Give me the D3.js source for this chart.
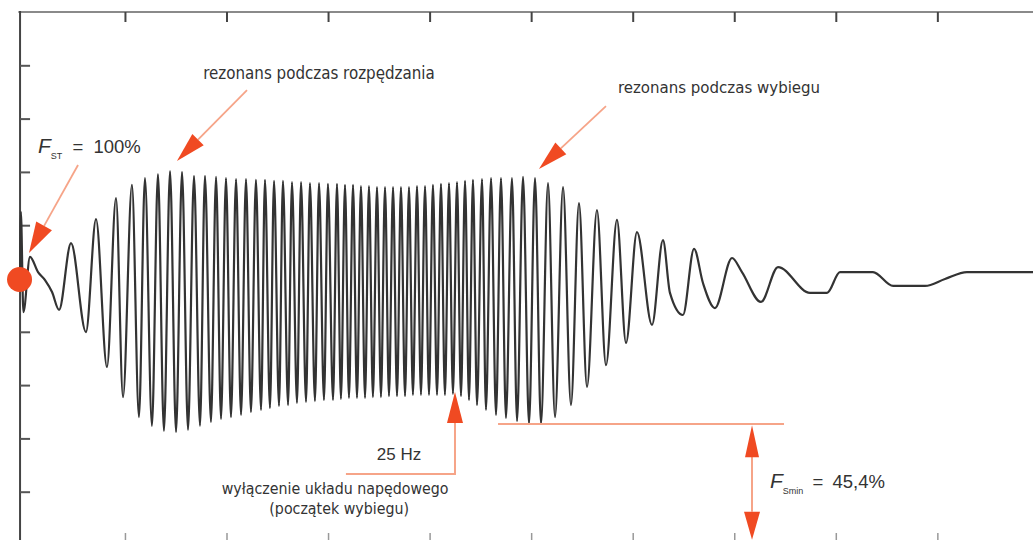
<!DOCTYPE html>
<html><head><meta charset="utf-8">
<script src="https://cdn.jsdelivr.net/npm/d3@7"></script>
<style>body{margin:0;background:#fff}svg{display:block}</style>
</head><body><svg id="c" width="1033" height="540"></svg>
<script>
// time axis in tick units (s), force in % of static force
const timeS = [-0.033,-0.025,0.0,0.065,0.144,0.213,0.282,0.351,0.469,0.616,0.715,0.823,0.912,0.981,
1.069,1.138,1.197,1.266,1.325,1.384,1.444,1.503,1.562,1.621,1.680,1.739,1.788,1.847,1.897,1.946,1.995,2.044,2.094,2.143,
2.192,2.241,2.290,2.340,2.379,2.428,2.468,2.517,2.556,2.606,2.645,2.694,2.734,2.783,2.822,2.871,2.911,2.960,2.999,3.049,
3.088,3.127,3.167,3.206,3.246,3.285,3.324,3.364,3.403,3.442,3.482,3.521,3.561,3.600,3.640,3.679,3.718,3.758,3.797,3.836,
3.876,3.915,3.955,3.994,4.033,4.073,4.112,4.151,4.191,4.230,4.270,4.309,4.349,4.388,4.427,4.467,4.516,4.555,4.605,4.654,
4.703,4.752,4.811,4.861,4.920,4.979,5.038,5.097,5.166,5.235,5.314,5.392,5.471,5.550,5.648,5.737,5.845,5.934,6.042,6.190,
6.298,6.367,6.495,6.604,6.692,6.810,6.978,7.076,7.263,7.431,7.746,7.914,8.041,8.366,8.564,8.879,9.075,9.292,10.01];
const forcePct = [100,125.0,87.4,108.1,102.4,99.4,94.9,88.2,113.3,79.9,122.3,66.8,130.2,55.5,
135.1,48.0,137.7,44.7,139.2,42.8,140.3,42.4,140.0,43.2,138.5,44.7,138.5,46.2,138.1,47.3,137.7,48.0,137.3,48.8,
137.3,49.9,137.0,50.7,137.0,51.4,136.6,52.2,136.6,52.5,136.2,53.3,136.2,53.7,135.8,54.0,135.8,54.4,135.5,54.4,
135.5,54.8,135.1,55.2,135.1,55.2,134.7,55.2,134.7,55.5,134.3,55.5,134.3,55.9,134.3,55.9,134.3,55.9,134.3,56.3,
134.7,56.3,134.7,56.3,135.1,56.3,135.5,56.3,135.8,56.7,136.2,55.9,136.6,54.4,137.0,52.5,137.3,50.7,137.7,48.8,
137.7,47.7,137.7,46.5,138.1,45.4,137.7,45.4,135.8,48.0,134.3,52.5,128.3,59.3,125.7,67.5,122.0,75.8,117.4,82.6,
114.4,94.6,86.3,111.1,98.3,88.9,107.7,102.4,91.2,104.3,94.6,94.6,102.4,102.4,97.2,97.2,99.8,102.4,102.4];
const xTicks = [1,2,3,4,5,6,7,8,9];
const yTicks = [20,40,60,80,100,120,140,160,180];
const fStatic = 100;
const fSmin = 45.4;
const tShutdown = 4.25;
const freqLabel = "25 Hz";
const textRunUp = "rezonans podczas rozpędzania";
const textRunDown = "rezonans podczas wybiegu";
const textOff = ["wyłączenie układu napędowego", "(początek wybiegu)"];

const svg = d3.select("#c");
const x = d3.scaleLinear().domain([0,10]).range([23.4,1038.9]);
const y = d3.scaleLinear().domain([0,200]).range([545,12]);
const axisT = -0.033;
const ORANGE = "#f04a22", SALMON = "#f6a488", INK = "#333";

// axes
svg.append("line").attr("x1",x(-0.05)).attr("x2",1033).attr("y1",y(200)).attr("y2",y(200))
  .attr("stroke","#8a8a8a").attr("stroke-width",2);
const gT = svg.append("g").attr("transform",`translate(0,${y(200)})`)
  .call(d3.axisTop(x).tickValues(xTicks).tickSize(-10).tickFormat(""));
const gB = svg.append("g").attr("transform",`translate(0,${y(0)})`)
  .call(d3.axisBottom(x).tickValues(xTicks).tickSize(-12).tickFormat(""));
const gL = svg.append("g").attr("transform",`translate(${x(axisT)},0)`)
  .call(d3.axisLeft(y).tickValues(yTicks).tickSize(-10).tickFormat(""));
[gT,gB].forEach(g=>g.select(".domain").remove());
gL.select(".domain").attr("stroke","#444").attr("stroke-width",2).attr("d",`M0,${y(0)}V${y(200)-1}`);
gT.selectAll(".tick line").attr("stroke","#444").attr("stroke-width",2);
gB.selectAll(".tick line").attr("stroke","#999").attr("stroke-width",1.5);
gL.selectAll(".tick line").attr("stroke","#555").attr("stroke-width",2);

// signal
const pts = timeS.map((t,i)=>[t,forcePct[i]]);
const line = d3.line().x(d=>x(d[0])).y(d=>y(d[1])).curve(d3.curveMonotoneX);
svg.append("path").datum(pts).attr("d",line).attr("fill","none")
  .attr("stroke","#333").attr("stroke-width",2.2).attr("stroke-linejoin","round");

// arrow helper (pixel geometry from data anchors)
function arrow(t0,f0,t1,f1,opts={}){
  const len = opts.len||30, hw = opts.hw||8;
  const X0=x(t0),Y0=y(f0),X1=x(t1),Y1=y(f1);
  const dx=X1-X0, dy=Y1-Y0, d=Math.hypot(dx,dy), ux=dx/d, uy=dy/d;
  const bx=X1-ux*len, by=Y1-uy*len;
  if(!opts.noLine) svg.append("line").attr("x1",X0).attr("y1",Y0).attr("x2",bx).attr("y2",by)
    .attr("stroke",SALMON).attr("stroke-width",1.8);
  svg.append("path").attr("d",`M${X1},${Y1}L${bx-uy*hw},${by+ux*hw}L${bx+uy*hw},${by-ux*hw}Z`).attr("fill",ORANGE);
}

// static force dot + label
svg.append("circle").attr("cx",x(axisT)-0.5).attr("cy",y(fStatic)+1).attr("r",12.5).attr("fill",ORANGE);
arrow(0.538,142.6,0.055,109.6,{len:31,hw:9});
const fst = svg.append("text").attr("x",x(0.144)).attr("y",y(147.1)).attr("fill",INK)
  .attr("font-family","Liberation Sans, Arial, sans-serif").attr("font-size",18.5).attr("word-spacing",5);
fst.append("tspan").attr("font-style","italic").attr("font-size",21).text("F");
fst.append("tspan").attr("font-size",9).attr("dy",6).text("ST");
fst.append("tspan").attr("dy",-6).text(" = "+fStatic+"%");

// resonance labels
const cond = "Liberation Sans Narrow, DejaVu Sans Condensed, Arial Narrow, sans-serif";
svg.append("text").attr("x",x(2.911)).attr("y",y(174.9)).attr("text-anchor","middle")
  .attr("font-family",cond).attr("font-size",16.8).attr("fill",INK).text(textRunUp);
arrow(2.202,170.7,1.512,144.1);
svg.append("text").attr("x",x(6.85)).attr("y",y(169.6)).attr("text-anchor","middle")
  .attr("font-family",cond).attr("font-size",16.7).attr("fill",INK).text(textRunDown);
arrow(5.737,164.7,5.077,141.1);

// shutdown / 25 Hz
svg.append("path").attr("d",`M${x(3.176)},${y(26.6)}H${x(tShutdown)}V${y(57.4)+30}`)
  .attr("fill","none").attr("stroke",SALMON).attr("stroke-width",2);
arrow(tShutdown,26.6,tShutdown,57.4,{noLine:true,len:31,hw:8});
svg.append("text").attr("x",x(3.699)).attr("y",y(31.9)).attr("text-anchor","middle")
  .attr("font-family","Liberation Sans, Arial, sans-serif").attr("font-size",17).attr("fill",INK).text(freqLabel);
textOff.forEach((s,i)=>svg.append("text").attr("x",x(3.07)+i*4).attr("y",y(i?11.6:19.3)).attr("text-anchor","middle")
  .attr("font-family",cond).attr("font-size",15.8).attr("fill",INK).text(s));

// F_Smin
svg.append("line").attr("x1",x(4.674)).attr("x2",x(7.49)).attr("y1",y(fSmin)).attr("y2",y(fSmin))
  .attr("stroke",SALMON).attr("stroke-width",2);
svg.append("line").attr("x1",x(7.175)).attr("x2",x(7.175)).attr("y1",y(fSmin)+30).attr("y2",y(2)-28)
  .attr("stroke",SALMON).attr("stroke-width",2);
arrow(7.175,20,7.175,fSmin-0.5,{noLine:true,len:32,hw:7});
arrow(7.175,20,7.175,2,{noLine:true,len:28,hw:8});
const fsm = svg.append("text").attr("x",x(7.352)).attr("y",y(21.4)).attr("fill",INK)
  .attr("font-family","Liberation Sans, Arial, sans-serif").attr("font-size",18.5).attr("word-spacing",4);
fsm.append("tspan").attr("font-style","italic").attr("font-size",21).text("F");
fsm.append("tspan").attr("font-size",9).attr("dy",6).text("Smin");
fsm.append("tspan").attr("dy",-6).text(" = "+String(fSmin).replace(".",",")+"%");
</script></body></html>
